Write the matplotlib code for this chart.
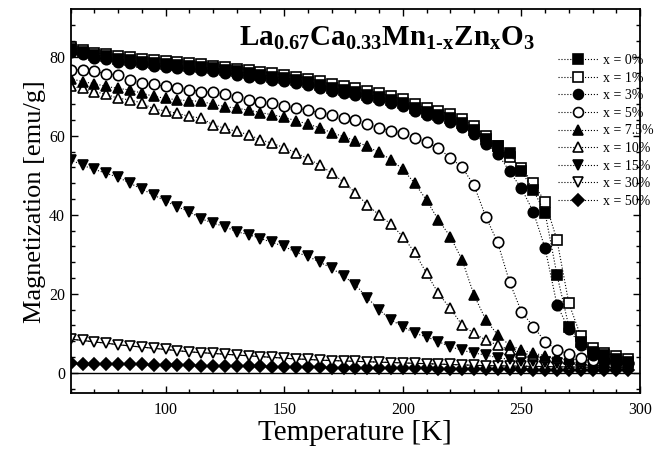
import numpy as np
import matplotlib
matplotlib.use('Agg')
import matplotlib.pyplot as plt

plt.rcParams['font.family'] = 'Liberation Serif'
plt.rcParams['mathtext.fontset'] = 'custom'
plt.rcParams['mathtext.rm'] = 'Liberation Serif'
plt.rcParams['mathtext.bf'] = 'Liberation Serif:bold'

temp = [60, 65, 70, 75, 80, 85, 90, 95, 100, 105, 110, 115, 120, 125, 130, 135,
        140, 145, 150, 155, 160, 165, 170, 175, 180, 185, 190, 195, 200, 205, 210, 215,
        220, 225, 230, 235, 240, 245, 250, 255, 260, 265, 270, 275, 280, 285, 290, 295]

m_0 = [82.0, 81.3, 80.5, 80.1, 79.5, 79.2, 78.8, 78.4, 78.3, 78.0, 77.8, 77.5, 77.1, 76.7, 76.3, 75.8,
       75.4, 75.0, 74.6, 74.2, 73.7, 72.9, 72.2, 71.6, 71.2, 70.4, 69.9, 69.1, 68.3, 67.0, 66.1, 65.3,
       64.5, 63.2, 61.5, 59.2, 57.3, 55.6, 51.0, 46.3, 40.4, 24.8, 11.7, 7.9, 5.3, 4.5, 3.6, 2.8]
m_1 = [82.5, 81.8, 81.0, 80.7, 80.2, 79.9, 79.5, 79.1, 79.0, 78.7, 78.5, 78.2, 77.8, 77.4, 77.0, 76.6,
       76.2, 75.8, 75.4, 75.0, 74.5, 73.8, 73.1, 72.5, 72.1, 71.3, 70.8, 70.0, 69.2, 68.0, 67.1, 66.3,
       65.5, 64.2, 62.5, 60.0, 57.5, 54.7, 51.8, 48.0, 43.3, 33.6, 17.6, 9.3, 6.2, 5.0, 4.3, 3.4]
m_3 = [81.3, 80.6, 79.8, 79.4, 78.8, 78.5, 78.1, 77.7, 77.5, 77.2, 77.0, 76.7, 76.3, 75.9, 75.5, 75.0,
       74.6, 74.2, 73.8, 73.4, 72.9, 72.1, 71.4, 70.8, 70.4, 69.6, 69.1, 68.3, 67.5, 66.2, 65.3, 64.5,
       63.6, 62.3, 60.5, 58.0, 55.5, 51.0, 46.7, 40.8, 31.5, 17.2, 11.0, 7.0, 4.5, 3.0, 2.5, 2.5]
m_5 = [76.7, 76.7, 76.3, 75.7, 75.4, 74.2, 73.4, 73.0, 72.5, 72.1, 71.7, 71.2, 71.0, 70.6, 69.8, 69.0,
       68.6, 68.2, 67.6, 67.0, 66.5, 65.8, 65.3, 64.6, 64.0, 62.9, 62.1, 61.3, 60.6, 59.5, 58.5, 56.8,
       54.5, 52.0, 47.5, 39.5, 33.0, 23.0, 15.5, 11.7, 7.9, 5.8, 4.8, 3.7, 3.2, 2.9, 2.9, 2.5]
m_75 = [74.5, 73.7, 73.2, 72.5, 72.0, 71.6, 70.8, 70.0, 69.5, 69.1, 68.9, 68.7, 68.0, 67.4, 67.0, 66.5,
        65.9, 65.3, 64.7, 63.8, 63.0, 62.0, 60.8, 59.8, 58.7, 57.3, 55.8, 54.0, 51.5, 48.0, 43.7, 38.7,
        34.5, 28.6, 19.7, 13.4, 9.6, 7.0, 5.8, 5.0, 4.3, 3.9, 3.6, 3.3, 3.0, 2.8, 2.6, 2.4]
m_10 = [72.5, 72.0, 71.2, 70.5, 69.5, 69.1, 68.3, 66.8, 66.3, 65.7, 64.9, 64.5, 62.8, 61.9, 61.1, 60.3,
        59.0, 58.1, 57.0, 55.7, 54.2, 52.6, 50.6, 48.3, 45.6, 42.5, 40.0, 37.6, 34.5, 30.5, 25.2, 20.1,
        16.3, 12.1, 10.0, 8.3, 7.0, 5.8, 5.0, 4.5, 4.0, 3.7, 3.4, 3.1, 2.9, 2.7, 2.5, 2.3]
m_15 = [54.0, 52.5, 51.5, 50.5, 49.5, 48.0, 46.5, 45.0, 43.5, 42.0, 40.8, 39.0, 37.9, 37.0, 35.7, 35.0,
        34.0, 33.0, 32.0, 30.5, 29.5, 28.0, 26.5, 24.5, 22.3, 19.0, 16.0, 13.4, 11.7, 10.0, 9.1, 7.9,
        6.6, 5.7, 5.0, 4.5, 3.8, 3.4, 3.1, 2.9, 2.7, 2.5, 2.3, 2.1, 2.0, 1.8, 1.7, 1.6]
m_30 = [8.5, 8.2, 7.8, 7.5, 7.1, 6.8, 6.5, 6.2, 5.9, 5.6, 5.3, 5.1, 4.9, 4.7, 4.5, 4.3,
        4.1, 3.9, 3.7, 3.5, 3.4, 3.2, 3.1, 3.0, 2.9, 2.8, 2.7, 2.6, 2.5, 2.4, 2.3, 2.2,
        2.1, 2.0, 1.9, 1.8, 1.8, 1.7, 1.7, 1.6, 1.6, 1.5, 1.5, 1.4, 1.4, 1.3, 1.3, 1.2]
m_50 = [2.4, 2.3, 2.3, 2.2, 2.2, 2.1, 2.1, 2.0, 2.0, 1.9, 1.9, 1.8, 1.8, 1.7, 1.7, 1.6,
        1.6, 1.5, 1.5, 1.5, 1.4, 1.4, 1.3, 1.3, 1.3, 1.2, 1.2, 1.2, 1.1, 1.1, 1.1, 1.0,
        1.0, 1.0, 1.0, 0.9, 0.9, 0.9, 0.9, 0.8, 0.8, 0.8, 0.8, 0.8, 0.7, 0.7, 0.7, 0.7]

labels = ['x = 0%', 'x = 1%', 'x = 3%', 'x = 5%', 'x = 7.5%', 'x = 10%', 'x = 15%', 'x = 30%', 'x = 50%']
series = [m_0, m_1, m_3, m_5, m_75, m_10, m_15, m_30, m_50]
markers = ['s', 's', 'o', 'o', '^', '^', 'v', 'v', 'D']
filled = [True, False, True, False, True, False, True, False, True]

fig = plt.figure(figsize=(6.62, 4.49), dpi=100)
ax = fig.add_axes([0.1068, 0.124, 0.86, 0.855])

handles = [None] * len(series)
# draw last series first so the low-x curves sit on top
for i in reversed(range(len(series))):
    ms = 6 if markers[i] == 'D' else 7.5
    ln, = ax.plot(temp, series[i], linestyle=':', linewidth=0.8, color='black',
                  marker=markers[i], markersize=ms, markeredgewidth=1.2,
                  markerfacecolor='black' if filled[i] else 'white',
                  markeredgecolor='black', label=labels[i])
    handles[i] = ln

ax.plot(temp, m_30, color='black', linewidth=0.8, zorder=1)
ax.axhline(0, color='black', linewidth=1.0, zorder=1)

ax.set_xlim(60, 300)
ax.set_ylim(-5.2, 92)
ax.set_xticks([100, 150, 200, 250, 300])
ax.set_xticks(np.arange(60, 301, 10), minor=True)
ax.set_yticks([0, 20, 40, 60, 80])
ax.set_yticks(np.arange(-4, 92, 4), minor=True)
ax.tick_params(which='both', direction='in', top=True, right=True, width=1.0, labelsize=11.5)
ax.tick_params(which='major', length=5)
ax.tick_params(which='minor', length=3)
ax.tick_params(axis='x', pad=6)
ax.tick_params(axis='y', pad=4)
for s in ax.spines.values():
    s.set_linewidth(1.3)

ax.set_xlabel('Temperature [K]', fontsize=21, labelpad=2)
ax.set_ylabel('Magnetization [emu/g]', fontsize=19, labelpad=2)

ax.text(0.555, 0.96, r'$\mathbf{La_{0.67}Ca_{0.33}Mn_{1\text{-}x}Zn_{x}O_{3}}$', transform=ax.transAxes,
        fontsize=21, ha='center', va='top')

leg = fig.legend(handles, labels, loc='upper left', bbox_to_anchor=(0.843, 0.8795),
                 frameon=False, fontsize=10, handlelength=2.9, handletextpad=0.35,
                 labelspacing=0.33, borderpad=0, borderaxespad=0, numpoints=1,
                 markerscale=0.95)

fig.savefig('out.png', dpi=100)
